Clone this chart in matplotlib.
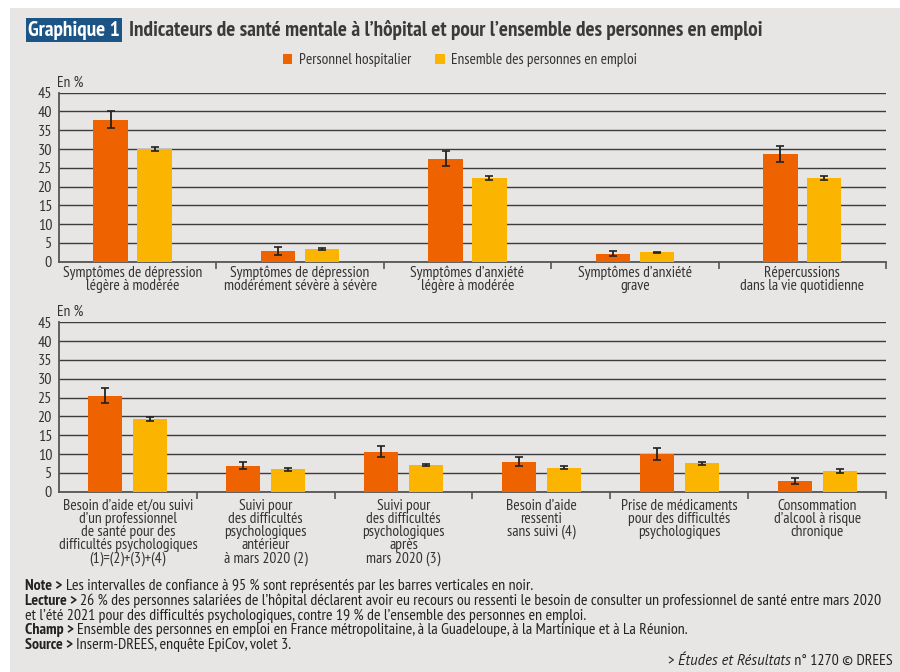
import matplotlib
matplotlib.use("Agg")
import matplotlib.pyplot as plt
import matplotlib.patches as mpatches
import numpy as np

plt.rcParams["font.family"] = ["PT Sans Narrow", "Archivo Narrow", "DejaVu Sans"]

# ── Data ──────────────────────────────────────────────────────────────────────
top_labels = [
    "Symptômes de dépression\nlégère à modérée",
    "Symptômes de dépression\nmodérément sévère à sévère",
    "Symptômes d’anxiété\nlégère à modérée",
    "Symptômes d’anxiété\ngrave",
    "Répercussions\ndans la vie quotidienne",
]
top_hosp = [37.7, 2.8, 27.4, 2.1, 28.6]
top_hosp_lo = [35.6, 1.7, 25.5, 1.4, 26.6]
top_hosp_hi = [40.1, 3.8, 29.5, 2.8, 30.9]
top_all = [29.9, 3.4, 22.2, 2.5, 22.4]
top_all_lo = [29.4, 3.1, 21.7, 2.3, 21.8]
top_all_hi = [30.5, 3.7, 22.7, 2.7, 22.9]

bot_labels = [
    "Besoin d’aide et/ou suivi\nd’un professionnel\nde santé pour des\ndifficultés psychologiques\n(1)=(2)+(3)+(4)",
    "Suivi pour\ndes difficultés\npsychologiques\nantérieur\nà mars 2020 (2)",
    "Suivi pour\ndes difficultés\npsychologiques\naprès\nmars 2020 (3)",
    "Besoin d’aide\nressenti\nsans suivi (4)",
    "Prise de médicaments\npour des difficultés\npsychologiques",
    "Consommation\nd’alcool à risque\nchronique",
]
bot_hosp = [25.5, 6.9, 10.6, 8.0, 10.1, 2.8]
bot_hosp_lo = [23.5, 5.9, 9.1, 6.8, 8.5, 2.0]
bot_hosp_hi = [27.6, 8.0, 12.1, 9.3, 11.6, 3.6]
bot_all = [19.3, 5.9, 7.0, 6.3, 7.6, 5.5]
bot_all_lo = [18.8, 5.6, 6.7, 5.9, 7.2, 5.1]
bot_all_hi = [19.8, 6.3, 7.4, 6.8, 7.9, 5.9]

ORANGE = "#ee6200"
YELLOW = "#fbb400"
BG = "#e8e6e4"
DARK = "#333333"

W, H = 900, 672
fig = plt.figure(figsize=(W / 100, H / 100), dpi=100, facecolor="white")

# grey panel behind everything
fig.patches.append(mpatches.Rectangle((10 / W, 0), 1 - 10 / W, 1 - 8 / H,
                                      transform=fig.transFigure,
                                      facecolor=BG, edgecolor="none", zorder=-5))


def px_axes(left, top, right, bottom):
    return fig.add_axes([left / W, 1 - bottom / H, (right - left) / W, (bottom - top) / H])


def draw_panel(ax, labels, hosp, hlo, hhi, allv, alo, ahi, width, off, xlim, lpad):
    x = np.arange(len(labels))
    hosp = np.array(hosp); allv = np.array(allv)
    ax.bar(x - off, hosp, width, color=ORANGE, zorder=3)
    ax.bar(x + off, allv, width, color=YELLOW, zorder=3)
    ax.errorbar(x - off, hosp, yerr=[hosp - np.array(hlo), np.array(hhi) - hosp],
                fmt="none", ecolor="#222222", elinewidth=1.3, capsize=3, capthick=1.2, zorder=4)
    ax.errorbar(x + off, allv, yerr=[allv - np.array(alo), np.array(ahi) - allv],
                fmt="none", ecolor="#222222", elinewidth=1.3, capsize=3, capthick=1.2, zorder=4)
    ax.set_facecolor("none")
    ax.set_ylim(0, 45)
    ax.set_xlim(*xlim)
    ax.set_yticks(np.arange(0, 46, 5))
    ax.yaxis.grid(True, color="#3c3c3c", lw=1.0, zorder=1)
    ax.set_axisbelow(True)
    ax.tick_params(axis="y", length=0, labelsize=11.5, labelcolor=DARK, pad=5)
    ax.set_xticks(x)
    ax.set_xticklabels(labels, fontsize=11.2, color=DARK, linespacing=0.92, va="top")
    ax.tick_params(axis="x", which="major", length=0, pad=lpad)
    ax.set_xticks(np.arange(len(labels)) + 0.5, minor=True)
    ax.tick_params(axis="x", which="minor", length=5, width=1.2, color="#555555", direction="out")
    for s in ["top", "right"]:
        ax.spines[s].set_visible(False)
    for s in ["left", "bottom"]:
        ax.spines[s].set_color("#555555")
        ax.spines[s].set_linewidth(1.3)
    ax.text(-0.002, 1.02, "En %", transform=ax.transAxes, fontsize=11, color=DARK,
            ha="left", va="bottom")


ax1 = px_axes(59, 92.7, 886, 261.7)
draw_panel(ax1, top_labels, top_hosp, top_hosp_lo, top_hosp_hi,
           top_all, top_all_lo, top_all_hi, 0.206, 0.131, (-0.44, 4.44), 3)

ax2 = px_axes(59, 322.3, 886, 491.7)
draw_panel(ax2, bot_labels, bot_hosp, bot_hosp_lo, bot_hosp_hi,
           bot_all, bot_all_lo, bot_all_hi, 0.247, 0.163, (-0.5, 5.5), 5)

# ── Title ─────────────────────────────────────────────────────────────────────
fig.text(28 / W, 1 - 30 / H, "Graphique 1", fontsize=15.3, fontweight="bold", color="white",
         ha="left", va="center",
         bbox=dict(boxstyle="square,pad=0.1", facecolor="#1d5486", edgecolor="none"))
fig.text(129 / W, 1 - 30 / H,
         "Indicateurs de santé mentale à l’hôpital et pour l’ensemble des personnes en emploi",
         fontsize=15.3, fontweight="bold", color="#3a3a3a", ha="left", va="center")

# ── Legend ────────────────────────────────────────────────────────────────────
handles = [mpatches.Patch(facecolor=ORANGE, label="Personnel hospitalier"),
           mpatches.Patch(facecolor=YELLOW, label="Ensemble des personnes en emploi")]
fig.legend(handles=handles, loc="center", bbox_to_anchor=(460 / W, 1 - 60 / H), ncol=2,
           frameon=False, fontsize=11, handlelength=0.65, handleheight=0.65,
           handletextpad=0.4, columnspacing=1.6, labelcolor=DARK)

# ── Notes ─────────────────────────────────────────────────────────────────────
notes = [
    ("Note > ", "Les intervalles de confiance à 95 % sont représentés par les barres verticales en noir."),
    ("Lecture > ", "26 % des personnes salariées de l’hôpital déclarent avoir eu recours ou ressenti le besoin de consulter un professionnel de santé entre mars 2020"),
    ("", "et l’été 2021 pour des difficultés psychologiques, contre 19 % de l’ensemble des personnes en emploi."),
    ("Champ > ", "Ensemble des personnes en emploi en France métropolitaine, à la Guadeloupe, à la Martinique et à La Réunion."),
    ("Source > ", "Inserm-DREES, enquête EpiCov, volet 3."),
]
NOTE_FS = 11.4
renderer = fig.canvas.get_renderer()
for i, (head, body) in enumerate(notes):
    y = 1 - (586 + i * 14.8) / H
    xpos = 25 / W
    if head:
        t = fig.text(xpos, y, head, fontsize=NOTE_FS, fontweight="bold", color="#222222",
                     ha="left", va="center")
        bb = t.get_window_extent(renderer)
        xpos = bb.x1 / W
    fig.text(xpos, y, body, fontsize=NOTE_FS, color="#222222", ha="left", va="center")

# source line, built right to left
ysrc = 1 - 661 / H
t3 = fig.text(893 / W, ysrc, " n° 1270 © DREES", fontsize=NOTE_FS, color="#222222",
              ha="right", va="center")
x3 = t3.get_window_extent(renderer).x0 / W
t2 = fig.text(x3, ysrc, "Études et Résultats", fontsize=10.5, style="italic",
              family=["PT Sans", "Archivo Narrow", "DejaVu Sans"],
              color="#222222", ha="right", va="center")
x2 = t2.get_window_extent(renderer).x0 / W
fig.text(x2, ysrc, "> ", fontsize=NOTE_FS, color="#222222", ha="right", va="center")

fig.savefig("out.png", dpi=100, facecolor=fig.get_facecolor())
